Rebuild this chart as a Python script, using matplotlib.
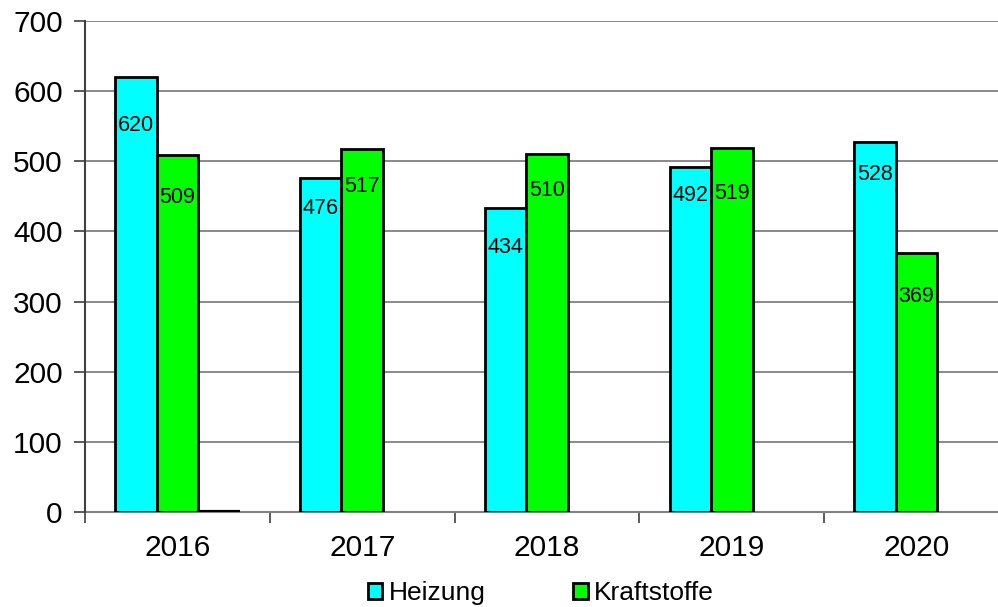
import numpy as np
import matplotlib
matplotlib.use("Agg")
import matplotlib.pyplot as plt

plt.rcParams['font.family'] = ['Liberation Sans', 'DejaVu Sans']

# Daten
jahre = ["2016", "2017", "2018", "2019", "2020"]
heizung = [620, 476, 434, 492, 528]
kraftstoffe = [509, 517, 510, 519, 369]
sonstige = [0]   # nur 2016, Balken mit Hoehe 0

# Abstand der Beschriftung unter der Balkenoberkante (Pixel), wie im Original verschoben
abst_heiz = [48, 30, 40, 29, 33]
abst_kraft = [43, 37, 36, 46, 43]

fig = plt.figure(figsize=(9.98, 6.07), dpi=100)
W, H = 998, 607
ax = fig.add_axes([85 / W, (H - 512) / H, (1009 - 85) / W, (512 - 21) / H])

x = np.arange(len(jahre))
w = 0.2246

b1 = ax.bar(x - w, heizung, w, color='#00FFFF', edgecolor='black', linewidth=2, label='Heizung', zorder=3)
b2 = ax.bar(x, kraftstoffe, w, color='#00FF00', edgecolor='black', linewidth=2, label='Kraftstoffe', zorder=3)
ax.bar(x[:len(sonstige)] + w, sonstige, w, color='#000080', edgecolor='black', linewidth=3, zorder=3)

# Beschriftung in den Balken
for bars, vals, abst in ((b1, heizung, abst_heiz), (b2, kraftstoffe, abst_kraft)):
    for r, v, d in zip(bars, vals, abst):
        ax.annotate(str(v), (r.get_x() + r.get_width() / 2, v), xytext=(0, -d * 0.72),
                    textcoords='offset points', ha='center', va='center', fontsize=15.5, zorder=5)

ax.set_ylim(0, 700)
ax.set_xlim(-0.5, len(jahre) - 0.5)
ax.set_yticks(np.arange(0, 701, 100))
ax.tick_params(axis='y', labelsize=21.5, length=8, width=1.2, color='#404040', pad=8)
ax.yaxis.grid(True, color='#808080', linewidth=1.3, zorder=0)

ax.set_xticks(np.arange(len(jahre) + 1) - 0.5)
ax.set_xticklabels([])
ax.set_xticks(x, minor=True)
ax.set_xticklabels(jahre, minor=True)
ax.tick_params(axis='x', which='major', length=8, width=1.2, color='#404040')
ax.tick_params(axis='x', which='minor', length=0, labelsize=21.5, pad=16)

for s in ('top', 'right'):
    ax.spines[s].set_visible(False)
ax.spines['left'].set_color('#404040')
ax.spines['left'].set_linewidth(1.5)
ax.spines['bottom'].set_color('#808080')
ax.spines['bottom'].set_linewidth(1.5)
ax.spines['left'].set_zorder(4)

leg = fig.legend(handles=[b1, b2], loc='center', bbox_to_anchor=(541 / W, 1 - 593 / H),
                 ncol=2, frameon=False, fontsize=19, handlelength=0.55, handleheight=0.55,
                 handletextpad=0.25, columnspacing=3.3)

fig.savefig("out.png", dpi=100)
